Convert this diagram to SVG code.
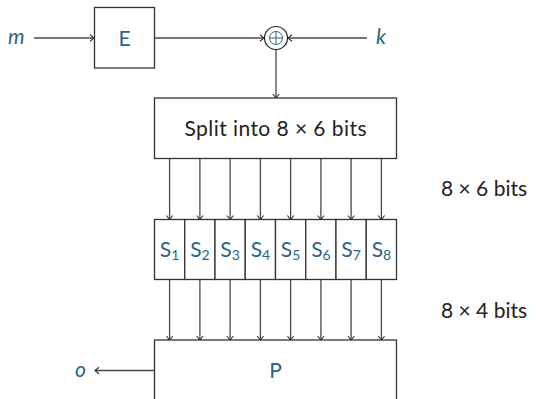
<svg xmlns="http://www.w3.org/2000/svg" width="536" height="399" viewBox="0 0 536 399">
<defs>
<style>
.box{fill:#fff;stroke:#333;stroke-width:1.3}
.ln{stroke:#4a4a4a;stroke-width:1.3;fill:none}
.blue{fill:#2b6585;font-family:Lato,"Open Sans",sans-serif;font-size:21px}
.it{font-style:italic}
.blk{fill:#222;font-family:Lato,"Open Sans",sans-serif;font-size:21px}
.sub{font-size:14px}
</style>
<marker id="ar" markerUnits="userSpaceOnUse" markerWidth="12" markerHeight="12" viewBox="-6 -6 12 12" refX="0" refY="0" orient="auto">
<path d="M-4,-3.2 L0,0 L-4,3.2" fill="none" stroke="#333" stroke-width="1.1"/>
</marker>
</defs>
<rect width="536" height="399" fill="#fff"/>
<g id="connectors">
<line class="ln" x1="34" y1="38" x2="94" y2="38" marker-end="url(#ar)"/>
<line class="ln" x1="154.5" y1="38" x2="264" y2="38" marker-end="url(#ar)"/>
<line class="ln" x1="367" y1="38" x2="288" y2="38" marker-end="url(#ar)"/>
<line class="ln" x1="276" y1="49.5" x2="276" y2="98" marker-end="url(#ar)"/>
<g id="split-arrows">
<line class="ln" x1="169.6" y1="158.5" x2="169.6" y2="219.5" marker-end="url(#ar)"/>
<line class="ln" x1="199.9" y1="158.5" x2="199.9" y2="219.5" marker-end="url(#ar)"/>
<line class="ln" x1="230.1" y1="158.5" x2="230.1" y2="219.5" marker-end="url(#ar)"/>
<line class="ln" x1="260.4" y1="158.5" x2="260.4" y2="219.5" marker-end="url(#ar)"/>
<line class="ln" x1="290.6" y1="158.5" x2="290.6" y2="219.5" marker-end="url(#ar)"/>
<line class="ln" x1="320.9" y1="158.5" x2="320.9" y2="219.5" marker-end="url(#ar)"/>
<line class="ln" x1="351.1" y1="158.5" x2="351.1" y2="219.5" marker-end="url(#ar)"/>
<line class="ln" x1="381.4" y1="158.5" x2="381.4" y2="219.5" marker-end="url(#ar)"/>
</g>
<g id="sbox-arrows">
<line class="ln" x1="169.6" y1="279.5" x2="169.6" y2="340" marker-end="url(#ar)"/>
<line class="ln" x1="199.9" y1="279.5" x2="199.9" y2="340" marker-end="url(#ar)"/>
<line class="ln" x1="230.1" y1="279.5" x2="230.1" y2="340" marker-end="url(#ar)"/>
<line class="ln" x1="260.4" y1="279.5" x2="260.4" y2="340" marker-end="url(#ar)"/>
<line class="ln" x1="290.6" y1="279.5" x2="290.6" y2="340" marker-end="url(#ar)"/>
<line class="ln" x1="320.9" y1="279.5" x2="320.9" y2="340" marker-end="url(#ar)"/>
<line class="ln" x1="351.1" y1="279.5" x2="351.1" y2="340" marker-end="url(#ar)"/>
<line class="ln" x1="381.4" y1="279.5" x2="381.4" y2="340" marker-end="url(#ar)"/>
</g>
<line class="ln" x1="154.5" y1="370.5" x2="95" y2="370.5" marker-end="url(#ar)"/>
</g>
<g id="m"><text class="blue it" x="8" y="44">m</text></g>
<g id="k"><text class="blue it" x="376" y="44">k</text></g>
<g id="o"><text class="blue it" x="75" y="377">o</text></g>
<g id="E">
<rect class="box" x="94.5" y="7.5" width="60" height="60.5"/>
<text class="blue" x="124.5" y="46" text-anchor="middle">E</text>
</g>
<g id="xor">
<circle cx="276" cy="38" r="11.5" fill="#fff" stroke="#222" stroke-width="1.2"/>
<circle cx="276" cy="38" r="6.5" fill="none" stroke="#2b6585" stroke-width="1"/>
<path d="M269.5,38 H282.5 M276,31.5 V44.5" stroke="#2b6585" stroke-width="1"/>
</g>
<g id="split">
<rect class="box" x="154.5" y="98" width="242" height="60.5"/>
<text class="blk" x="184.5" y="135.5" textLength="182" lengthAdjust="spacing">Split into 8 × 6 bits</text>
</g>
<g id="sboxes">
<g id="S1"><rect class="box" x="154.5" y="219.5" width="30.25" height="60"/><text class="blue" x="169.6" y="257" text-anchor="middle">S<tspan class="sub" dy="3">1</tspan></text></g>
<g id="S2"><rect class="box" x="184.75" y="219.5" width="30.25" height="60"/><text class="blue" x="199.9" y="257" text-anchor="middle">S<tspan class="sub" dy="3">2</tspan></text></g>
<g id="S3"><rect class="box" x="215" y="219.5" width="30.25" height="60"/><text class="blue" x="230.1" y="257" text-anchor="middle">S<tspan class="sub" dy="3">3</tspan></text></g>
<g id="S4"><rect class="box" x="245.25" y="219.5" width="30.25" height="60"/><text class="blue" x="260.4" y="257" text-anchor="middle">S<tspan class="sub" dy="3">4</tspan></text></g>
<g id="S5"><rect class="box" x="275.5" y="219.5" width="30.25" height="60"/><text class="blue" x="290.6" y="257" text-anchor="middle">S<tspan class="sub" dy="3">5</tspan></text></g>
<g id="S6"><rect class="box" x="305.75" y="219.5" width="30.25" height="60"/><text class="blue" x="320.9" y="257" text-anchor="middle">S<tspan class="sub" dy="3">6</tspan></text></g>
<g id="S7"><rect class="box" x="336" y="219.5" width="30.25" height="60"/><text class="blue" x="351.1" y="257" text-anchor="middle">S<tspan class="sub" dy="3">7</tspan></text></g>
<g id="S8"><rect class="box" x="366.25" y="219.5" width="30.25" height="60"/><text class="blue" x="381.4" y="257" text-anchor="middle">S<tspan class="sub" dy="3">8</tspan></text></g>
</g>
<g id="P">
<rect class="box" x="154.5" y="340" width="242" height="70"/>
<text class="blue" x="275.5" y="378" text-anchor="middle">P</text>
</g>
<g id="label-6bits"><text class="blk" x="441" y="196">8 × 6 bits</text></g>
<g id="label-4bits"><text class="blk" x="441" y="318">8 × 4 bits</text></g>
</svg>
